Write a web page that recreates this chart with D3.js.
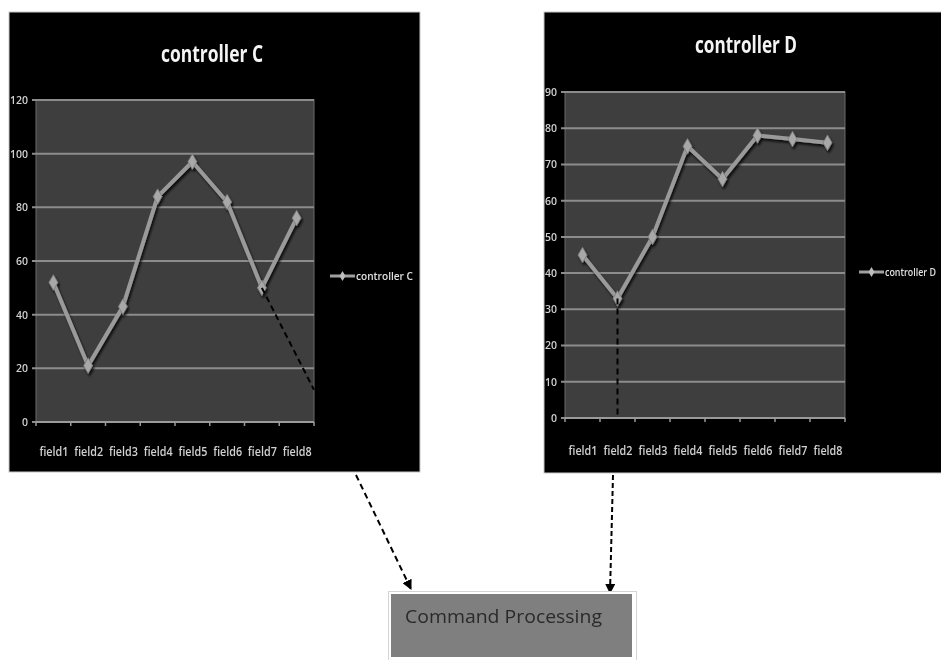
<!DOCTYPE html>
<html>
<head>
<meta charset="utf-8">
<script src="https://cdn.jsdelivr.net/npm/d3@7"></script>
<style>
  html, body { margin: 0; padding: 0; background: #fff; }
  svg { display: block; }
  text { font-family: "Open Sans", "Liberation Sans", sans-serif; }
</style>
</head>
<body>
<svg id="chart" width="941" height="660"></svg>
<script>
// ---- data ----
const categories = ["field1", "field2", "field3", "field4", "field5", "field6", "field7", "field8"];
const valuesC = [52, 21, 43, 84, 97, 82, 50, 76];
const valuesD = [45, 33, 50, 75, 66, 78, 77, 76];
const ticksC = [0, 20, 40, 60, 80, 100, 120];
const ticksD = [0, 10, 20, 30, 40, 50, 60, 70, 80, 90];
const titleC = "controller C";
const titleD = "controller D";
const boxLabel = "Command Processing";

const svg = d3.select("#chart");
const defs = svg.append("defs");

const f = defs.append("filter").attr("id", "shadow").attr("x", "-20%").attr("y", "-20%").attr("width", "140%").attr("height", "140%");
f.append("feDropShadow").attr("dx", 1.5).attr("dy", 2.5).attr("stdDeviation", 1.2).attr("flood-color", "#000").attr("flood-opacity", 0.8);
const blur = defs.append("filter").attr("id", "soft");
blur.append("feGaussianBlur").attr("stdDeviation", 0.45);

defs.append("marker").attr("id", "arrow").attr("viewBox", "0 0 10 10")
  .attr("refX", 9).attr("refY", 5).attr("markerWidth", 5).attr("markerHeight", 5)
  .attr("orient", "auto-start-reverse").attr("markerUnits", "strokeWidth")
  .append("path").attr("d", "M0,0 L10,5 L0,10 z").attr("fill", "#000");

function drawChart(cfg) {
  const g = svg.append("g");
  g.append("rect").attr("x", cfg.frame[0]).attr("y", cfg.frame[1])
    .attr("width", cfg.frame[2]).attr("height", cfg.frame[3])
    .attr("fill", "#000").attr("stroke", "#c8c8c8").attr("stroke-width", 1);

  const x = d3.scalePoint().domain(categories).range([cfg.plot.x0, cfg.plot.x1]).padding(0.5);
  const y = d3.scaleLinear().domain([0, cfg.max]).range([cfg.plot.y0, cfg.plot.y1]);

  g.append("rect").attr("x", cfg.plot.x0).attr("y", y(cfg.max))
    .attr("width", cfg.plot.x1 - cfg.plot.x0).attr("height", y(0) - y(cfg.max))
    .attr("fill", "#3e3e3e").attr("stroke", "#6a6a6a").attr("stroke-width", 1);

  g.append("g").selectAll("line").data(cfg.ticks).join("line")
    .attr("x1", cfg.plot.x0 - 4).attr("x2", cfg.plot.x1)
    .attr("y1", d => y(d)).attr("y2", d => y(d))
    .attr("stroke", "#8c8c8c").attr("stroke-width", 2);

  const ya = d3.axisLeft(y).tickValues(cfg.ticks).tickSize(0).tickPadding(0);
  const yg = g.append("g").attr("transform", `translate(${cfg.plot.x0 - 8},0)`).call(ya);
  yg.select(".domain").remove();
  yg.selectAll("text").attr("fill", "#d0d0d0").attr("font-size", 10.5).attr("font-weight", 600)
    .attr("filter", "url(#soft)");

  const band = d3.scaleBand().domain(categories).range([cfg.plot.x0, cfg.plot.x1]);
  g.append("line").attr("x1", cfg.plot.x0).attr("x2", cfg.plot.x1)
    .attr("y1", y(0)).attr("y2", y(0)).attr("stroke", "#9a9a9a").attr("stroke-width", 2);
  g.append("g").selectAll("line").data(categories.concat(["_end"])).join("line")
    .attr("x1", (d, i) => i < categories.length ? band(d) : cfg.plot.x1)
    .attr("x2", (d, i) => i < categories.length ? band(d) : cfg.plot.x1)
    .attr("y1", y(0)).attr("y2", y(0) + 4).attr("stroke", "#9a9a9a").attr("stroke-width", 1.5);
  const xa = d3.axisBottom(x).tickSize(0).tickPadding(0);
  const xg = g.append("g").attr("transform", `translate(0,${cfg.xLabelY})`).call(xa);
  xg.select(".domain").remove();
  xg.selectAll("text").attr("fill", "#d0d0d0").attr("font-size", 12).attr("font-weight", 600)
    .attr("dy", 0).attr("textLength", 29).attr("lengthAdjust", "spacingAndGlyphs")
    .attr("filter", "url(#soft)");

  g.append("text").attr("x", cfg.titleX).attr("y", cfg.titleY).attr("text-anchor", "middle")
    .attr("fill", "#f4f4f4").attr("font-size", 24).attr("font-weight", 700)
    .attr("textLength", 102).attr("lengthAdjust", "spacingAndGlyphs")
    .attr("filter", "url(#soft)").text(cfg.title);

  const line = d3.line().x((d, i) => x(categories[i])).y(d => y(d));
  const sg = g.append("g").attr("filter", "url(#shadow)");
  sg.append("path").datum(cfg.values).attr("d", line)
    .attr("fill", "none").attr("stroke", "#9a9a9a").attr("stroke-width", 4)
    .attr("stroke-linejoin", "round");
  const diamond = d3.symbol().type(d3.symbolDiamond).size(70);
  sg.selectAll("path.m").data(cfg.values).join("path").attr("class", "m")
    .attr("transform", (d, i) => `translate(${x(categories[i])},${y(d)})`)
    .attr("d", diamond).attr("fill", "#a8a8a8").attr("stroke", "#7a7a7a").attr("stroke-width", 0.8);

  const lg = g.append("g").attr("transform", `translate(${cfg.legend[0]},${cfg.legend[1]})`);
  lg.append("line").attr("x1", 0).attr("x2", cfg.legendLine).attr("y1", 0).attr("y2", 0)
    .attr("stroke", "#a0a0a0").attr("stroke-width", 3);
  lg.append("path").attr("d", d3.symbol().type(d3.symbolDiamond).size(30))
    .attr("transform", `translate(${cfg.legendLine / 2},0)`).attr("fill", "#bdbdbd");
  lg.append("text").attr("x", cfg.legendLine + 1).attr("y", 4).attr("fill", "#e0e0e0")
    .attr("font-size", 10).attr("font-weight", 600)
    .attr("textLength", cfg.legendText).attr("lengthAdjust", "spacingAndGlyphs")
    .attr("filter", "url(#soft)").text(cfg.title);

  return { x, y };
}

const C = drawChart({
  frame: [9, 12, 411, 460],
  plot: { x0: 36, x1: 314, y0: 422, y1: 100 },
  max: 120, ticks: ticksC, values: valuesC, title: titleC,
  titleX: 212, titleY: 62, xLabelY: 456,
  legend: [330, 276], legendLine: 25, legendText: 57
});

const D = drawChart({
  frame: [544, 12, 400, 461],
  plot: { x0: 565, x1: 845, y0: 418, y1: 92 },
  max: 90, ticks: ticksD, values: valuesD, title: titleD,
  titleX: 746, titleY: 53, xLabelY: 455,
  legend: [859, 272], legendLine: 25, legendText: 51
});

const dash = "6,4";
svg.append("line")
  .attr("x1", C.x("field7")).attr("y1", C.y(valuesC[6]))
  .attr("x2", 314).attr("y2", C.y(12))
  .attr("stroke", "#000").attr("stroke-width", 2).attr("stroke-dasharray", dash);
svg.append("line")
  .attr("x1", D.x("field2")).attr("y1", D.y(valuesD[1]))
  .attr("x2", D.x("field2")).attr("y2", D.y(0) - 2)
  .attr("stroke", "#000").attr("stroke-width", 2).attr("stroke-dasharray", dash);

svg.append("line").attr("x1", 356).attr("y1", 475).attr("x2", 411).attr("y2", 589)
  .attr("stroke", "#000").attr("stroke-width", 2).attr("stroke-dasharray", dash)
  .attr("marker-end", "url(#arrow)");
svg.append("line").attr("x1", 613).attr("y1", 475).attr("x2", 610).attr("y2", 593)
  .attr("stroke", "#000").attr("stroke-width", 2).attr("stroke-dasharray", "5,3")
  .attr("marker-end", "url(#arrow)");

svg.append("rect").attr("x", 388.5).attr("y", 591.5).attr("width", 248).attr("height", 70)
  .attr("fill", "#fff").attr("stroke", "#d4d4d4").attr("stroke-width", 1);
svg.append("rect").attr("x", 391).attr("y", 594).attr("width", 241).attr("height", 63)
  .attr("fill", "#7f7f7f");
svg.append("text").attr("x", 405).attr("y", 623).attr("fill", "#2a2a2a")
  .attr("font-size", 19).attr("textLength", 197).attr("lengthAdjust", "spacingAndGlyphs")
  .attr("filter", "url(#soft)").text(boxLabel);
</script>
</body>
</html>
